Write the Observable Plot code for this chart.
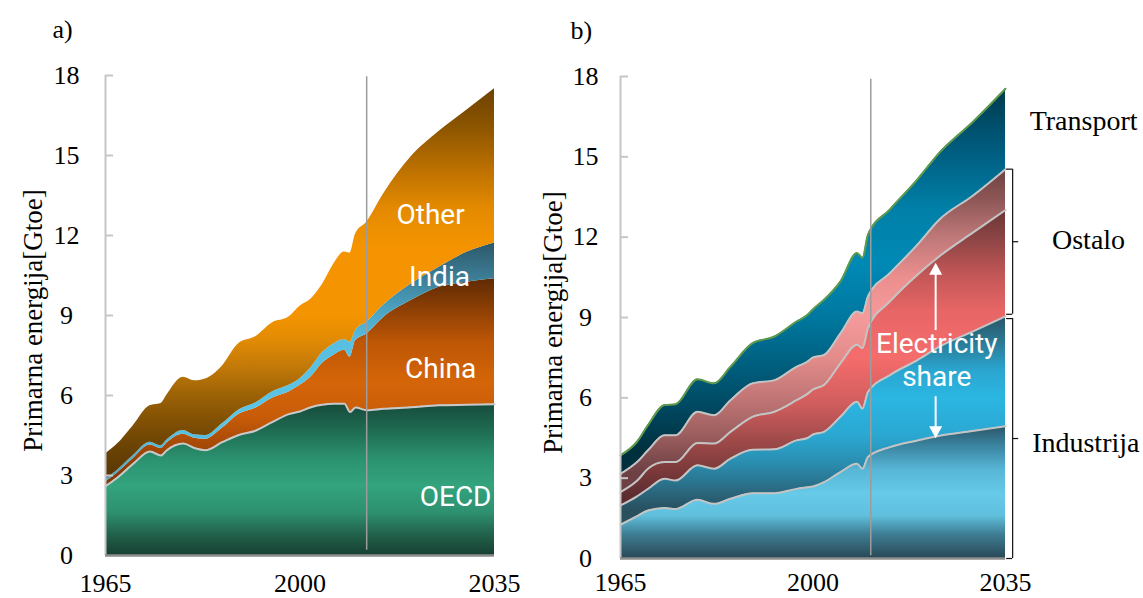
<!DOCTYPE html>
<html>
<head>
<meta charset="utf-8">
<script src="https://cdn.jsdelivr.net/npm/d3@7"></script>
<script src="https://cdn.jsdelivr.net/npm/@observablehq/plot@0.6"></script>
<style>
  body { margin: 0; background: #fff; }
  #wrap { position: relative; width: 1143px; height: 598px; overflow: hidden; background: #fff; }
  #wrap svg { position: absolute; top: 0; }
</style>
</head>
<body>
<div id="wrap"></div>
<script>
// ---- axes ----
const xTicks = [1965, 2000, 2035];
const yTicks = [0, 3, 6, 9, 12, 15, 18];
const yLabel = "Primarna energija[Gtoe]";

// ---- a) primary energy by region (Gtoe) ----
const yearsA = [1965, 1967, 1970, 1973, 1975, 1976, 1979, 1981, 1983, 1986, 1989, 1992, 1995, 1998,
                2000, 2002, 2004, 2006, 2008, 2009, 2010, 2012, 2015, 2020, 2025, 2030, 2035];
const oecd  = [2.60, 2.90, 3.44, 3.90, 3.75, 3.94, 4.20, 4.03, 3.95, 4.25, 4.52, 4.68, 5.00, 5.30,
               5.40, 5.56, 5.65, 5.69, 5.69, 5.38, 5.55, 5.45, 5.50, 5.56, 5.63, 5.65, 5.67];
const china = [0.16, 0.17, 0.20, 0.24, 0.26, 0.27, 0.35, 0.37, 0.41, 0.52, 0.78, 0.84, 0.90, 0.83,
               0.98, 1.14, 1.55, 1.81, 2.01, 2.06, 2.51, 2.86, 3.42, 4.00, 4.43, 4.60, 4.71];
const india = [0.10, 0.10, 0.11, 0.11, 0.11, 0.11, 0.14, 0.13, 0.14, 0.17, 0.16, 0.20, 0.23, 0.25,
               0.25, 0.35, 0.40, 0.42, 0.40, 0.56, 0.38, 0.44, 0.46, 0.62, 0.75, 1.12, 1.34];
const other = [0.95, 0.98, 1.12, 1.37, 1.58, 1.68, 1.99, 2.02, 2.12, 2.16, 2.49, 2.48, 2.59, 2.56,
               2.72, 2.57, 2.55, 2.98, 3.28, 3.34, 3.62, 3.75, 4.17, 4.77, 5.09, 5.33, 5.78];
const regionKeys = ["oecd", "china", "india", "other"];
const regionValues = [oecd, china, india, other];

// ---- b) primary energy by sector (Gtoe) ----
const yearsB = [1965, 1968, 1970, 1973, 1975, 1979, 1982, 1985, 1989, 1993, 1997, 1999,
                2000, 2002, 2005, 2008, 2009, 2010, 2014, 2019, 2023, 2029, 2035];
const industryDirect = [1.26, 1.58, 1.79, 1.89, 1.85, 2.19, 2.04, 2.23, 2.44, 2.44, 2.60, 2.66,
                        2.69, 2.85, 3.23, 3.54, 3.35, 3.79, 4.16, 4.41, 4.58, 4.76, 4.94];
const industryPower  = [0.72, 0.74, 0.81, 1.09, 1.06, 1.29, 1.31, 1.50, 1.62, 1.64, 1.81, 1.84,
                        1.94, 1.88, 2.06, 2.31, 2.25, 2.43, 2.69, 3.00, 3.33, 3.71, 4.10];
const otherPower     = [0.50, 0.58, 0.75, 0.62, 0.69, 0.83, 0.94, 1.00, 1.23, 1.40, 1.50, 1.65,
                        1.68, 1.75, 2.00, 2.13, 2.25, 2.38, 2.75, 3.19, 3.38, 3.69, 3.97];
const otherDirect    = [0.68, 0.70, 0.69, 1.00, 1.00, 1.17, 1.06, 1.18, 1.25, 1.18, 1.25, 1.20,
                        1.20, 1.12, 1.12, 1.24, 1.31, 1.19, 1.06, 1.12, 1.37, 1.38, 1.53];
const transport      = [0.69, 0.76, 0.94, 1.13, 1.16, 1.21, 1.19, 1.25, 1.50, 1.63, 1.69, 1.75,
                        1.80, 2.06, 1.94, 2.19, 2.07, 2.31, 2.38, 2.44, 2.50, 2.75, 3.00];
const sectorKeys = ["industryDirect", "industryPower", "otherPower", "otherDirect", "transport"];
const sectorValues = [industryDirect, industryPower, otherPower, otherDirect, transport];

// first projected year marker in each panel
const outlookA = 2012;
const outlookB = 2010.5;

// ---- colours: vertical gradients, [value, colour] from top to bottom ----
const gradientsA = {
  oecd:  [[5.8, "#16473a"], [4.6, "#1f6e53"], [3.6, "#2b9270"], [2.6, "#33a47d"], [1.6, "#2e9070"], [0.8, "#22634c"], [0, "#173f31"]],
  china: [[10.5, "#5a2804"], [9.2, "#8e4004"], [8, "#bd5606"], [6.5, "#d56508"], [5.2, "#c85c08"], [4.2, "#a84a06"], [3, "#843a06"]],
  india: [[11.8, "#2a5666"], [10.6, "#3a7890"], [9.3, "#4aa0be"], [8, "#58bfe0"], [5, "#5cc6e6"], [2.8, "#4aa2c0"]],
  other: [[17.6, "#6a4000"], [16, "#8e5600"], [14.5, "#bb7000"], [13, "#e48a00"], [11.5, "#f59400"], [9, "#f49400"],
          [8, "#e08a04"], [7, "#c07808"], [6, "#9c6206"], [5, "#805004"], [4, "#6a4204"], [3, "#5a3804"]]
};
const gradientsB = {
  industryDirect: [[5, "#2a5262"], [4.2, "#3a84a0"], [3.3, "#58b6d6"], [2.4, "#66cae8"], [1.6, "#60c0de"], [0.9, "#3e7e94"], [0, "#294856"]],
  industryPower:  [[9.1, "#2a5262"], [8, "#2a7c98"], [7, "#2aa6d0"], [6, "#2bb6e2"], [4.6, "#2aa8d2"], [3.5, "#2a8cae"], [2.6, "#2a6c84"], [1.8, "#28505f"]],
  otherPower:     [[13.1, "#683434"], [12, "#8a4444"], [10.6, "#c25656"], [9.2, "#e86666"], [7.5, "#f56c6c"], [5.8, "#d25e5e"],
                   [4.4, "#a04a4a"], [3.3, "#7c3a3a"], [2.3, "#5c2c30"]],
  otherDirect:    [[14.6, "#6c4040"], [13.5, "#8a5454"], [12, "#be7878"], [10.5, "#ec8e8e"], [9, "#f59a9a"], [7.5, "#e48c8c"],
                   [6, "#c27676"], [4.6, "#9c5e5e"], [3.2, "#6e4044"]],
  transport:      [[17.6, "#003a4b"], [15.5, "#00587a"], [13, "#0080a8"], [11, "#0089b5"], [9, "#0078a0"], [7, "#005c7b"],
                   [5.5, "#00465e"], [4, "#00303e"]]
};
const edgeA = {oecd: "#c9c9c9", china: "none", india: "none", other: "none"};
const edgeB = {industryDirect: "#c4c4c4", industryPower: "#c4c4c4", otherPower: "#c4c4c4", otherDirect: "#c4c4c4", transport: "#5f9a4c"};

const serif = "'Liberation Serif', 'DejaVu Serif', serif";
const sans = "Roboto, 'Open Sans', sans-serif";

function longTable(years, keys, values) {
  return keys.flatMap((series, i) => years.map((year, j) => ({year, series, value: values[i][j]})));
}

function addGradients(svg, prefix, gradients) {
  const ns = "http://www.w3.org/2000/svg";
  const y = svg.scale("y");
  const top = y.apply(18), bottom = y.apply(0);
  const defs = document.createElementNS(ns, "defs");
  for (const [key, stops] of Object.entries(gradients)) {
    const g = document.createElementNS(ns, "linearGradient");
    g.setAttribute("id", `${prefix}-${key}`);
    g.setAttribute("gradientUnits", "userSpaceOnUse");
    g.setAttribute("x1", 0); g.setAttribute("x2", 0);
    g.setAttribute("y1", top); g.setAttribute("y2", bottom);
    for (const [v, c] of stops) {
      const s = document.createElementNS(ns, "stop");
      s.setAttribute("offset", Math.max(0, Math.min(1, (y.apply(v) - top) / (bottom - top))));
      s.setAttribute("stop-color", c);
      g.appendChild(s);
    }
    defs.appendChild(g);
  }
  svg.insertBefore(defs, svg.firstChild);
}

function axisMarks({tickPad, xPad, yLabelDx, letter, letterDx}) {
  const tickLen = 1.45; // inward tick length, in years
  return [
    Plot.ruleX([1965], {y1: 0, y2: 18, stroke: "#c6c6c6", strokeWidth: 2}),
    Plot.ruleY(yTicks.filter(d => d > 0), {x1: 1965, x2: 1965 + tickLen, stroke: "#c6c6c6", strokeWidth: 2}),
    Plot.ruleY([0], {stroke: "#8c8c8c", strokeWidth: 2.5}),
    Plot.axisY({ticks: yTicks, tickSize: 0, tickPadding: tickPad, textAnchor: "middle", label: null, fontSize: 26}),
    Plot.axisX({ticks: xTicks, tickSize: 0, tickPadding: xPad, tickFormat: d => String(d), label: null, fontSize: 26}),
    Plot.text([yLabel], {frameAnchor: "left", dx: yLabelDx, dy: 5, rotate: -90, textAnchor: "middle", lineAnchor: "middle", fontSize: 27}),
    Plot.text([letter], {frameAnchor: "top-left", dx: letterDx, dy: -46, textAnchor: "start", lineAnchor: "middle", fontSize: 26})
  ];
}

const wrap = document.getElementById("wrap");

// ---- panel a ----
const tableA = longTable(yearsA, regionKeys, regionValues);
const labelsA = [
  {text: "Other", year: 2023.5, value: 12.75},
  {text: "India", year: 2025.1, value: 10.46},
  {text: "China", year: 2025.3, value: 7.01},
  {text: "OECD",  year: 2028.0, value: 2.21}
];
const chartA = Plot.plot({
  width: 520, height: 598,
  marginLeft: 105, marginRight: 26, marginTop: 75, marginBottom: 43,
  x: {domain: [1965, 2035]},
  y: {domain: [0, 18]},
  color: {type: "identity"},
  style: {fontFamily: serif, fontSize: "26px", color: "#000", background: "transparent", overflow: "visible"},
  marks: [
    Plot.areaY(tableA, Plot.stackY({x: "year", y: "value", z: "series", fill: d => `url(#ga-${d.series})`, curve: "monotone-x"})),
    Plot.lineY(tableA, Plot.stackY2({x: "year", y: "value", z: "series", stroke: d => edgeA[d.series], strokeWidth: 2, curve: "monotone-x"})),
    Plot.ruleX([outlookA], {y1: 0.2, y2: 17.95, stroke: "#9c9c9c", strokeWidth: 1.5}),
    Plot.text(labelsA, {x: "year", y: "value", text: "text", fill: "white", fontFamily: sans, fontSize: 28, fontWeight: 400, textAnchor: "middle", lineAnchor: "middle"}),
    ...axisMarks({tickPad: 39, xPad: 18, yLabelDx: -72, letter: "a)", letterDx: -53})
  ]
});
chartA.style.left = "0px";
wrap.appendChild(chartA);
addGradients(chartA, "ga", gradientsA);

// ---- panel b ----
const tableB = longTable(yearsB, sectorKeys, sectorValues);
const last = yearsB.length - 1;
const industryTop = industryDirect[last] + industryPower[last];
const ostaloTop = industryTop + otherPower[last] + otherDirect[last];
const brackets = [
  {y1: industryTop + 0.08, y2: ostaloTop},
  {y1: 0, y2: industryTop - 0.08}
];
const bracketX = 2036.3, hookX = 2035.2, tickX = 2037.4;
const sideLabels = [
  {text: "Transport", year: 2049.2, value: 16.35},
  {text: "Ostalo", year: 2050.1, value: (industryTop + ostaloTop) / 2 + 0.1},
  {text: "Industrija", year: 2049.6, value: industryTop / 2 - 0.2}
];
const shareText = [
  {text: "Electricity", year: 2022.5, value: 8.01},
  {text: "share", year: 2022.5, value: 6.78}
];
const shareArrows = [
  {year: 2022.3, from: 8.53, to: 11.04, dir: "up"},
  {year: 2022.3, from: 6.06, to: 4.49, dir: "down"}
];
const head = dir => ({
  draw(ctx) {
    const h = 12, w = 6.5, s = dir === "up" ? 1 : -1;
    ctx.moveTo(0, 0);
    ctx.lineTo(w, s * h);
    ctx.lineTo(-w, s * h);
    ctx.closePath();
  }
});

const chartB = Plot.plot({
  width: 623, height: 598,
  marginLeft: 100, marginRight: 138, marginTop: 76, marginBottom: 40,
  x: {domain: [1965, 2035]},
  y: {domain: [0, 18]},
  color: {type: "identity"},
  style: {fontFamily: serif, fontSize: "26px", color: "#000", background: "transparent", overflow: "visible"},
  marks: [
    Plot.areaY(tableB, Plot.stackY({x: "year", y: "value", z: "series", fill: d => `url(#gb-${d.series})`, curve: "monotone-x"})),
    Plot.lineY(tableB, Plot.stackY2({x: "year", y: "value", z: "series", stroke: d => edgeB[d.series], strokeWidth: 2, curve: "monotone-x"})),
    Plot.ruleX([outlookB], {y1: 0.1, y2: 17.9, stroke: "#9c9c9c", strokeWidth: 1.5}),
    Plot.text(shareText, {x: "year", y: "value", text: "text", fill: "white", fontFamily: sans, fontSize: 28, fontWeight: 400, textAnchor: "middle", lineAnchor: "middle"}),
    Plot.link(shareArrows, {x1: "year", x2: "year", y1: "from", y2: d => d.to + (d.dir === "up" ? -0.3 : 0.3), stroke: "white", strokeWidth: 2}),
    Plot.dot(shareArrows.filter(d => d.dir === "up"), {x: "year", y: "to", symbol: head("up"), r: 6, fill: "white", stroke: "none"}),
    Plot.dot(shareArrows.filter(d => d.dir === "down"), {x: "year", y: "to", symbol: head("down"), r: 6, fill: "white", stroke: "none"}),
    // brackets grouping the sectors on the right
    Plot.ruleX(brackets, {x: bracketX, y1: "y1", y2: "y2", stroke: "#111", strokeWidth: 1.2}),
    Plot.ruleY(brackets.flatMap(b => [b.y1, b.y2]), {x1: hookX, x2: bracketX, stroke: "#111", strokeWidth: 1.2}),
    Plot.ruleY(brackets.map(b => (b.y1 + b.y2) / 2), {x1: bracketX, x2: tickX, stroke: "#111", strokeWidth: 1.2}),
    Plot.text(sideLabels, {x: "year", y: "value", text: "text", textAnchor: "middle", lineAnchor: "middle", fontSize: 28}),
    ...axisMarks({tickPad: 35, xPad: 14, yLabelDx: -67, letter: "b)", letterDx: -50})
  ]
});
chartB.style.left = "520px";
wrap.appendChild(chartB);
addGradients(chartB, "gb", gradientsB);
</script>
</body>
</html>
